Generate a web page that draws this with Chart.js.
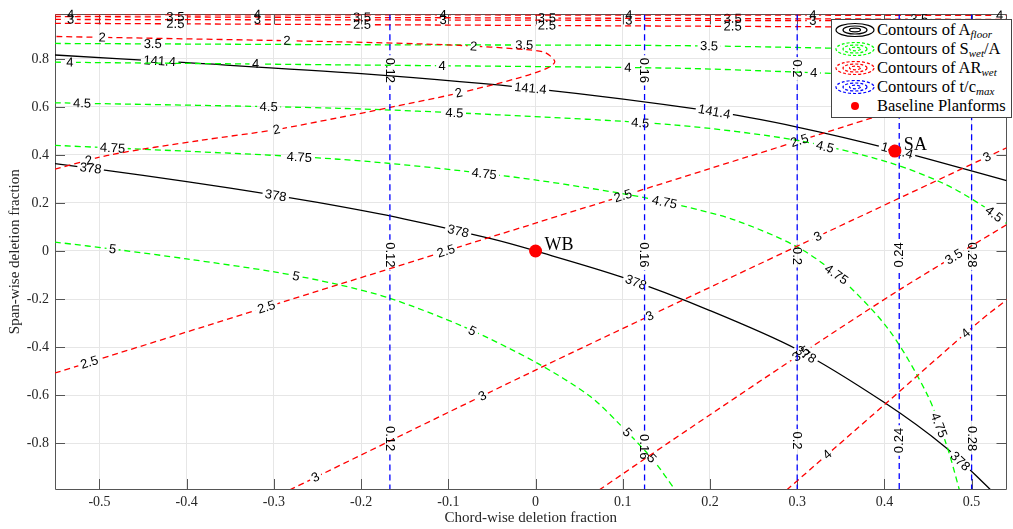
<!DOCTYPE html>
<html>
<head>
<meta charset="utf-8">
<script src="https://cdn.jsdelivr.net/npm/chart.js@4.4.1/dist/chart.umd.min.js"></script>
<style>
  html, body { margin: 0; padding: 0; background: #fff; }
  #wrap { position: relative; width: 1013px; height: 529px; }
  #legend {
    position: absolute; left: 831px; top: 19px; width: 181px; height: 99px;
    box-sizing: border-box; border: 1px solid #444; background: #fff;
    font-family: 'Liberation Serif', serif; font-size: 16.5px; color: #000;
  }
  #legend .row { display: flex; align-items: center; height: 19.2px; white-space: nowrap; }
  #legend svg { margin-left: 2px; margin-right: 1px; flex: none; }
  #legend sub { font-size: 11px; font-style: italic; vertical-align: -3px; line-height: 0; }
</style>
</head>
<body>
<div id="wrap">
  <canvas id="chart" width="1013" height="529"></canvas>
  <div id="legend">
    <div class="row">
      <svg width="42" height="16"><g fill="none" stroke="#000" stroke-width="1.2"><ellipse cx="21" cy="8" rx="19" ry="6.5"/><ellipse cx="21" cy="8" rx="12" ry="4"/><ellipse cx="21" cy="8" rx="5.5" ry="1.8"/></g></svg>
      <span>Contours of A<sub>floor</sub></span>
    </div>
    <div class="row">
      <svg width="42" height="16"><g fill="none" stroke="#00ff00" stroke-width="1.2" stroke-dasharray="3 2"><ellipse cx="21" cy="8" rx="19" ry="6.5"/><ellipse cx="21" cy="8" rx="12" ry="4"/><ellipse cx="21" cy="8" rx="5.5" ry="1.8"/></g></svg>
      <span>Contours of S<sub>wet</sub>/A</span>
    </div>
    <div class="row">
      <svg width="42" height="16"><g fill="none" stroke="#ff0000" stroke-width="1.2" stroke-dasharray="3 2"><ellipse cx="21" cy="8" rx="19" ry="6.5"/><ellipse cx="21" cy="8" rx="12" ry="4"/><ellipse cx="21" cy="8" rx="5.5" ry="1.8"/></g></svg>
      <span>Contours of AR<sub>wet</sub></span>
    </div>
    <div class="row">
      <svg width="42" height="16"><g fill="none" stroke="#0000ff" stroke-width="1.2" stroke-dasharray="3 2"><ellipse cx="21" cy="8" rx="19" ry="6.5"/><ellipse cx="21" cy="8" rx="12" ry="4"/><ellipse cx="21" cy="8" rx="5.5" ry="1.8"/></g></svg>
      <span>Contours of t/c<sub>max</sub></span>
    </div>
    <div class="row">
      <svg width="42" height="16"><circle cx="21" cy="8" r="4" fill="#ff0000"/></svg>
      <span>Baseline Planforms</span>
    </div>
  </div>
</div>
<script>
// axis limits and ticks
const xRange = [-0.551, 0.54];
const yRange = [-0.991, 0.985];
const xTicks = [-0.5, -0.4, -0.3, -0.2, -0.1, 0, 0.1, 0.2, 0.3, 0.4, 0.5];
const yTicks = [-0.8, -0.6, -0.4, -0.2, 0, 0.2, 0.4, 0.6, 0.8];

// A_floor contours (black)
const aFloor141 = [[-0.551, 0.816], [-0.4, 0.784], [-0.2, 0.738], [0, 0.675], [0.2, 0.583], [0.3, 0.516], [0.412, 0.42], [0.54, 0.293]];
const aFloor141Labels = [[-0.431, 0.789], [-0.006, 0.67], [0.205, 0.58], [0.414, 0.411]];
const aFloor378 = [[-0.551, 0.364], [-0.45, 0.315], [-0.35, 0.262], [-0.25, 0.202], [-0.15, 0.133], [-0.05, 0.05], [0, 0], [0.1, -0.11], [0.2, -0.248], [0.3, -0.41], [0.4, -0.631], [0.47, -0.817], [0.522, -0.995]];
const aFloor378Labels = [[-0.51, 0.349], [-0.298, 0.229], [-0.089, 0.078], [0.115, -0.131], [0.31, -0.431], [0.486, -0.879]];

// S_wet/A contours (green)
const swet35 = [[-0.551, 0.864], [-0.226, 0.859], [0.161, 0.855], [0.333, 0.845], [0.54, 0.83]];
const swet35Labels = [[-0.439, 0.859], [-0.013, 0.852], [0.199, 0.848]];
const swet4 = [[-0.551, 0.786], [-0.226, 0.775], [0.161, 0.761], [0.298, 0.745], [0.54, 0.711]];
const swet4Labels = [[-0.534, 0.779], [-0.321, 0.775], [-0.107, 0.768], [0.106, 0.756], [0.319, 0.735]];
const swet45 = [[-0.551, 0.617], [-0.226, 0.594], [-0.044, 0.567], [0.161, 0.524], [0.301, 0.46], [0.404, 0.37], [0.469, 0.279], [0.514, 0.185], [0.54, 0.115]];
const swet45Labels = [[-0.52, 0.611], [-0.306, 0.597], [-0.093, 0.57], [0.12, 0.529], [0.332, 0.437], [0.526, 0.156]];
const swet475 = [[-0.551, 0.44], [-0.226, 0.382], [-0.036, 0.313], [0.101, 0.238], [0.168, 0.188], [0.229, 0.128], [0.299, 0.019], [0.345, -0.098], [0.404, -0.323], [0.449, -0.597], [0.472, -0.816], [0.486, -0.995]];
const swet475Labels = [[-0.485, 0.426], [-0.271, 0.386], [-0.059, 0.32], [0.148, 0.204], [0.345, -0.097], [0.461, -0.727]];
const swet5 = [[-0.551, 0.037], [-0.476, 0.004], [-0.4, -0.033], [-0.298, -0.088], [-0.226, -0.14], [-0.167, -0.197], [-0.082, -0.316], [0.002, -0.467], [0.062, -0.604], [0.096, -0.72], [0.135, -0.871], [0.16, -0.995]];
const swet5Labels = [[-0.485, 0.008], [-0.275, -0.115], [-0.072, -0.33], [0.104, -0.759], [0.135, -0.857]];

// AR_wet contours (red): a rising lower branch and a flat upper branch near the top
const ar2 = [[-0.551, 0.341], [-0.488, 0.4], [-0.385, 0.46], [-0.298, 0.505], [-0.226, 0.555], [-0.169, 0.596], [-0.089, 0.657], [-0.021, 0.719], [0.014, 0.762], [0.022, 0.789], [0.011, 0.826], [-0.01, 0.838], [-0.093, 0.857], [-0.226, 0.871], [-0.551, 0.893]];
const ar2Labels = [[-0.511, 0.364], [-0.297, 0.505], [-0.088, 0.657], [-0.497, 0.886], [-0.285, 0.875], [-0.071, 0.85]];
const ar25Lower = [[-0.551, -0.508], [-0.3, -0.224], [0, 0.116], [0.2, 0.343], [0.355, 0.519], [0.54, 0.729]];
const ar25LowerLabels = [[-0.511, -0.471], [-0.308, -0.241], [-0.102, -0.008], [0.101, 0.221], [0.303, 0.455]];
const ar25Upper = [[-0.551, 0.948], [0.54, 0.93]];
const ar25UpperLabels = [[-0.413, 0.944], [-0.199, 0.937], [0.013, 0.937], [0.226, 0.93]];
const ar3Lower = [[-0.282, -0.995], [0, -0.496], [0.3, 0.02], [0.545, 0.438]];
const ar3LowerLabels = [[-0.252, -0.944], [-0.06, -0.611], [0.131, -0.272], [0.324, 0.058], [0.518, 0.389]];
const ar3Upper = [[-0.551, 0.964], [0.54, 0.958]];
const ar3UpperLabels = [[-0.533, 0.96], [-0.319, 0.96], [-0.106, 0.96], [0.107, 0.96], [0.318, 0.96]];
const ar35Lower = [[0.073, -0.995], [0.153, -0.797], [0.305, -0.427], [0.418, -0.16], [0.545, 0.12]];
const ar35LowerLabels = [[0.301, -0.41], [0.477, -0.008]];
const ar35Upper = [[-0.551, 0.976], [0.54, 0.964]];
const ar35UpperLabels = [[-0.413, 0.975], [-0.199, 0.973], [0.013, 0.971], [0.226, 0.967], [0.44, 0.964]];
const ar4Lower = [[0.288, -0.995], [0.4, -0.64], [0.51, -0.29], [0.545, -0.19]];
const ar4LowerLabels = [[0.333, -0.842], [0.495, -0.35]];
const ar4Upper = [[-0.551, 0.984], [0.54, 0.981]];
const ar4UpperLabels = [[-0.533, 0.984], [-0.319, 0.984], [-0.106, 0.984], [0.107, 0.983], [0.318, 0.982], [0.532, 0.981]];

// t/c_max contours (blue, vertical)
const tcLevels = [0.12, 0.16, 0.2, 0.24, 0.28];
const tcX = [-0.167, 0.125, 0.3, 0.417, 0.5];
const tcLabelY = [[0.752, -0.016, -0.781], [0.752, -0.016, -0.815], [0.76, -0.021, -0.789], [-0.016, -0.789], [-0.016, -0.781]];
const tcReadUp = [false, false, false, true, false];

// baseline planforms
const baseNames = ['WB', 'SA'];
const baseX = [0, 0.412];
const baseY = [0, 0.416];

const LABEL_FONT = '13px "Liberation Sans", Arial, sans-serif';
const SERIF = 'Liberation Serif';

function contour(points, level, color, dash, labelAt) {
  return {
    data: points.map(([x, y]) => ({x, y})),
    labelText: String(level),
    labelAt: labelAt,
    borderColor: color,
    borderWidth: 1.3,
    borderDash: dash,
    showLine: true,
    pointRadius: 0,
    pointHoverRadius: 0,
    fill: false,
    tension: 0.3
  };
}

const RED = '#ff0000', GREEN = '#00ff00', BLUE = '#0000ff', DASH = [6, 4];

const datasets = [{
  data: baseX.map((x, i) => ({x, y: baseY[i]})),
  names: baseNames,
  pointRadius: 6.5,
  pointHoverRadius: 6.5,
  pointBackgroundColor: RED,
  pointBorderWidth: 0,
  showLine: false
}];

tcX.forEach((x, i) => {
  const ends = tcReadUp[i] ? [yRange[0], yRange[1]] : [yRange[1], yRange[0]];
  datasets.push(contour(ends.map(y => [x, y]), tcLevels[i], BLUE, DASH, tcLabelY[i].map(y => [x, y])));
});

datasets.push(
  contour(ar4Upper, 4, RED, DASH, ar4UpperLabels),
  contour(ar4Lower, 4, RED, DASH, ar4LowerLabels),
  contour(ar35Upper, 3.5, RED, DASH, ar35UpperLabels),
  contour(ar35Lower, 3.5, RED, DASH, ar35LowerLabels),
  contour(ar3Upper, 3, RED, DASH, ar3UpperLabels),
  contour(ar3Lower, 3, RED, DASH, ar3LowerLabels),
  contour(ar25Upper, 2.5, RED, DASH, ar25UpperLabels),
  contour(ar25Lower, 2.5, RED, DASH, ar25LowerLabels),
  contour(ar2, 2, RED, DASH, ar2Labels),
  contour(swet5, 5, GREEN, DASH, swet5Labels),
  contour(swet475, 4.75, GREEN, DASH, swet475Labels),
  contour(swet45, 4.5, GREEN, DASH, swet45Labels),
  contour(swet4, 4, GREEN, DASH, swet4Labels),
  contour(swet35, 3.5, GREEN, DASH, swet35Labels),
  contour(aFloor378, 378, '#000', [], aFloor378Labels),
  contour(aFloor141, 141.4, '#000', [], aFloor141Labels)
);

// place each label on the nearest point of its own line, rotated along it
function labelBoxes(chart, ds) {
  const xs = chart.scales.x, ys = chart.scales.y;
  const pts = ds.data.map(p => [xs.getPixelForValue(p.x), ys.getPixelForValue(p.y)]);
  chart.ctx.save();
  chart.ctx.font = LABEL_FONT;
  const w = chart.ctx.measureText(ds.labelText).width;
  chart.ctx.restore();
  return ds.labelAt.map(([lx, ly]) => {
    const qx = xs.getPixelForValue(lx), qy = ys.getPixelForValue(ly);
    let best = null;
    for (let i = 0; i < pts.length - 1; i++) {
      const [ax, ay] = pts[i], [bx, by] = pts[i + 1];
      const dx = bx - ax, dy = by - ay, len = dx * dx + dy * dy;
      let t = len ? ((qx - ax) * dx + (qy - ay) * dy) / len : 0;
      t = Math.max(0, Math.min(1, t));
      const cx = ax + t * dx, cy = ay + t * dy;
      const d = (cx - qx) ** 2 + (cy - qy) ** 2;
      if (!best || d < best.d) best = {d, x: cx, y: cy, a: Math.atan2(dy, dx)};
    }
    let a = best.a;
    if (a > Math.PI / 2 + 0.01) a -= Math.PI;
    else if (a < -Math.PI / 2 - 0.01) a += Math.PI;
    return {x: best.x, y: best.y, a, w};
  });
}

const boxCache = {};

const contourLabels = {
  id: 'contourLabels',
  beforeDatasetDraw(chart, args) {
    const ds = chart.data.datasets[args.index];
    if (!ds.labelAt) return;
    const boxes = labelBoxes(chart, ds);
    boxCache[args.index] = boxes;
    const ctx = chart.ctx;
    ctx.save();
    ctx.beginPath();
    ctx.rect(0, 0, chart.width, chart.height);
    boxes.forEach(b => {
      const c = Math.cos(b.a), s = Math.sin(b.a);
      const hw = b.w / 2 + 2.5, hh = 6.5;
      [[-hw, -hh], [hw, -hh], [hw, hh], [-hw, hh]].forEach(([u, v], i) => {
        const px = b.x + u * c - v * s, py = b.y + u * s + v * c;
        if (i) ctx.lineTo(px, py); else ctx.moveTo(px, py);
      });
      ctx.closePath();
    });
    ctx.clip('evenodd');
  },
  afterDatasetDraw(chart, args) {
    const ds = chart.data.datasets[args.index];
    const ctx = chart.ctx;
    if (ds.names) {
      ctx.save();
      ctx.font = '18px "' + SERIF + '", serif';
      ctx.fillStyle = '#000';
      ctx.textBaseline = 'middle';
      args.meta.data.forEach((pt, i) => ctx.fillText(ds.names[i], pt.x + 9, pt.y - 6));
      ctx.restore();
      return;
    }
    if (!ds.labelAt) return;
    ctx.restore();
    ctx.save();
    ctx.font = LABEL_FONT;
    ctx.fillStyle = '#000';
    ctx.textAlign = 'center';
    ctx.textBaseline = 'middle';
    boxCache[args.index].forEach(b => {
      ctx.save();
      ctx.translate(b.x, b.y);
      ctx.rotate(b.a);
      ctx.fillText(ds.labelText, 0, 0.5);
      ctx.restore();
    });
    ctx.restore();
  }
};

// MATLAB style box with inward tick marks
const axesBox = {
  id: 'axesBox',
  beforeDatasetsDraw(chart) {
    const {ctx, chartArea: a, scales: {x, y}} = chart;
    ctx.save();
    ctx.strokeStyle = '#555';
    ctx.lineWidth = 1;
    ctx.beginPath();
    xTicks.forEach(v => {
      const p = Math.round(x.getPixelForValue(v)) + 0.5;
      ctx.moveTo(p, a.bottom); ctx.lineTo(p, a.bottom - 10);
      ctx.moveTo(p, a.top); ctx.lineTo(p, a.top + 10);
    });
    yTicks.forEach(v => {
      const p = Math.round(y.getPixelForValue(v)) + 0.5;
      ctx.moveTo(a.left, p); ctx.lineTo(a.left + 10, p);
      ctx.moveTo(a.right, p); ctx.lineTo(a.right - 10, p);
    });
    ctx.rect(Math.round(a.left) + 0.5, Math.round(a.top) + 0.5, Math.round(a.right - a.left) - 1, Math.round(a.bottom - a.top));
    ctx.stroke();
    ctx.restore();
  }
};

const tickFmt = v => String(+Number(v).toFixed(2));

new Chart(document.getElementById('chart'), {
  type: 'scatter',
  data: {datasets},
  plugins: [axesBox, contourLabels],
  options: {
    responsive: false,
    animation: false,
    events: [],
    layout: {padding: {top: 8, right: 1, left: 0, bottom: 0}},
    plugins: {legend: {display: false}, tooltip: {enabled: false}},
    scales: {
      x: {
        type: 'linear',
        bounds: 'data',
        min: xRange[0],
        max: xRange[1],
        afterBuildTicks: s => { s.ticks = xTicks.map(v => ({value: v})); },
        afterFit: s => { s.height = 40; },
        grid: {color: '#e6e6e6', drawTicks: false},
        border: {display: false},
        ticks: {color: '#262626', font: {family: SERIF, size: 14}, padding: 5, maxRotation: 0, autoSkip: false, callback: tickFmt},
        title: {display: true, text: 'Chord-wise deletion fraction', color: '#262626', font: {family: SERIF, size: 15}, padding: {top: 0, bottom: 2}}
      },
      y: {
        type: 'linear',
        bounds: 'data',
        min: yRange[0],
        max: yRange[1],
        afterBuildTicks: s => { s.ticks = yTicks.map(v => ({value: v})); },
        afterFit: s => { s.width = 55; },
        grid: {color: '#e6e6e6', drawTicks: false},
        border: {display: false},
        ticks: {color: '#262626', font: {family: SERIF, size: 14}, padding: 6, autoSkip: false, callback: tickFmt},
        title: {display: true, text: 'Span-wise deletion fraction', color: '#262626', font: {family: SERIF, size: 15}, padding: {top: 6, bottom: 0}}
      }
    }
  }
});
</script>
</body>
</html>
